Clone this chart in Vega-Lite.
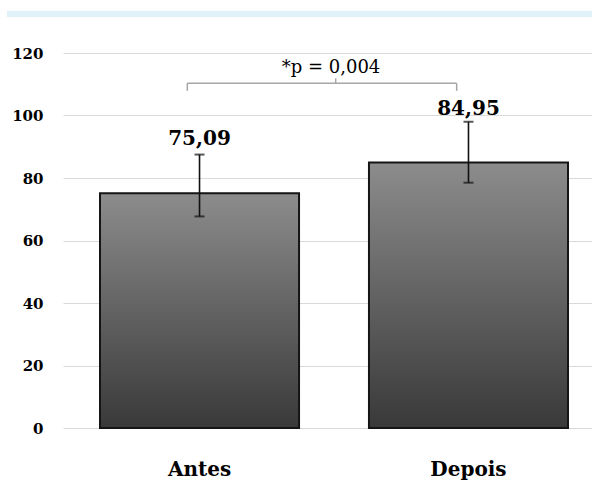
{
  "$schema": "https://vega.github.io/schema/vega-lite/v6.json",
  "width": 529,
  "height": 375,
  "autosize": {"type": "none"},
  "padding": {"left": 63, "top": 53, "right": 0, "bottom": 53},
  "background": "white",
  "config": {"view": {"stroke": null}},
  "datasets": {
    "barras": [
      {"grupo": "Antes", "media": 75.09, "rotulo": "75,09", "inf": 67.7, "sup": 87.5},
      {"grupo": "Depois", "media": 84.95, "rotulo": "84,95", "inf": 78.5, "sup": 98.0}
    ]
  },
  "resolve": {"scale": {"x": "independent"}},
  "layer": [
    {
      "data": {"name": "barras"},
      "encoding": {
        "x": {
          "field": "grupo",
          "type": "nominal",
          "sort": null,
          "scale": {"paddingInner": 0.26, "paddingOuter": 0.1134, "align": 0.6066, "round": false},
          "axis": {
            "title": null,
            "labelAngle": 0,
            "labelFont": "DejaVu Serif",
            "labelFontWeight": "bold",
            "labelFontSize": 20,
            "labelColor": "#000000",
            "labelPadding": 31,
            "ticks": false,
            "domain": false,
            "grid": false
          }
        }
      },
      "layer": [
        {
          "mark": {
            "type": "bar",
            "stroke": "#151515",
            "strokeWidth": 2,
            "color": {
              "gradient": "linear",
              "x1": 0, "y1": 0, "x2": 0, "y2": 1,
              "stops": [
                {"offset": 0, "color": "#8c8c8c"},
                {"offset": 1, "color": "#393939"}
              ]
            }
          },
          "encoding": {
            "y": {
              "field": "media",
              "type": "quantitative",
              "scale": {"domain": [0, 120], "nice": false, "zero": true},
              "axis": {
                "title": null,
                "values": [0, 20, 40, 60, 80, 100, 120],
                "labelFont": "DejaVu Serif",
                "labelFontWeight": "bold",
                "labelFontSize": 15,
                "labelColor": "#000000",
                "labelPadding": 20,
                "ticks": false,
                "domain": false,
                "grid": true,
                "gridColor": "#d9d9d9",
                "gridWidth": 1.2
              }
            }
          }
        },
        {
          "mark": {"type": "rule", "color": "#111111", "strokeWidth": 1.6},
          "encoding": {
            "y": {"field": "inf", "type": "quantitative"},
            "y2": {"field": "sup"}
          }
        },
        {
          "mark": {"type": "tick", "color": "#111111", "size": 10, "thickness": 2, "orient": "horizontal"},
          "encoding": {"y": {"field": "inf", "type": "quantitative"}}
        },
        {
          "mark": {"type": "tick", "color": "#111111", "size": 10, "thickness": 2, "orient": "horizontal"},
          "encoding": {"y": {"field": "sup", "type": "quantitative"}}
        },
        {
          "mark": {
            "type": "text",
            "font": "DejaVu Serif",
            "fontWeight": "bold",
            "fontSize": 20,
            "color": "#000000",
            "baseline": "alphabetic",
            "align": "center",
            "dy": -48
          },
          "encoding": {
            "y": {"field": "media", "type": "quantitative"},
            "text": {"field": "rotulo"}
          }
        }
      ]
    },
    {
      "data": {"values": [{}]},
      "layer": [
        {
          "mark": {"type": "rect", "color": "#e0f1f9", "clip": false},
          "encoding": {
            "x": {"datum": -0.1059, "type": "quantitative", "scale": {"domain": [0, 1], "nice": false, "zero": false}, "axis": null},
            "x2": {"datum": 1},
            "y": {"datum": 133.5, "type": "quantitative"},
            "y2": {"datum": 131.5}
          }
        },
        {
          "mark": {"type": "rule", "color": "#a6a6a6", "strokeWidth": 1.5},
          "encoding": {
            "x": {"datum": 0.235, "type": "quantitative", "scale": {"domain": [0, 1], "nice": false, "zero": false}, "axis": null},
            "x2": {"datum": 0.7442},
            "y": {"datum": 110.3, "type": "quantitative"}
          }
        },
        {
          "mark": {"type": "rule", "color": "#a6a6a6", "strokeWidth": 1.5},
          "encoding": {
            "x": {"datum": 0.235, "type": "quantitative"},
            "y": {"datum": 110.3, "type": "quantitative"},
            "y2": {"datum": 107.9}
          }
        },
        {
          "mark": {"type": "rule", "color": "#a6a6a6", "strokeWidth": 1.5},
          "encoding": {
            "x": {"datum": 0.7442, "type": "quantitative"},
            "y": {"datum": 110.3, "type": "quantitative"},
            "y2": {"datum": 107.9}
          }
        },
        {
          "mark": {"type": "rule", "color": "#a6a6a6", "strokeWidth": 1.5},
          "encoding": {
            "x": {"datum": 0.5155, "type": "quantitative"},
            "y": {"datum": 110.3, "type": "quantitative"},
            "y2": {"datum": 111.9}
          }
        },
        {
          "mark": {
            "type": "text",
            "font": "DejaVu Serif",
            "fontSize": 18,
            "color": "#000000",
            "baseline": "alphabetic",
            "align": "center"
          },
          "encoding": {
            "x": {"datum": 0.5066, "type": "quantitative"},
            "y": {"datum": 113.7, "type": "quantitative"},
            "text": {"value": "*p = 0,004"}
          }
        }
      ]
    }
  ]
}
